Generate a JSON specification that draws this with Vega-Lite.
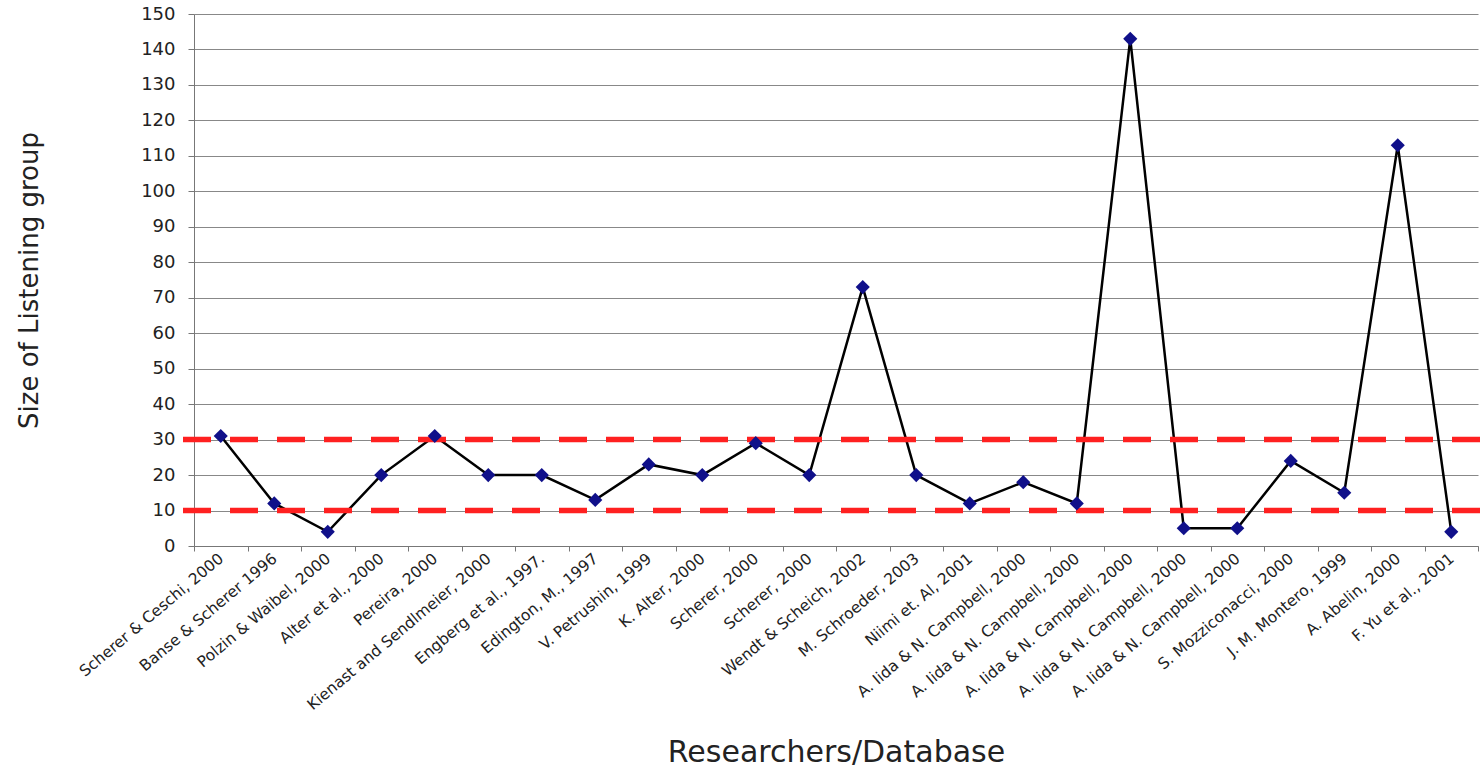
{
  "$schema": "https://vega.github.io/schema/vega-lite/v6.json",
  "autosize": {"type": "none"},
  "padding": {"left": 194, "top": 14, "right": 4, "bottom": 222},
  "width": 1284,
  "height": 532,
  "background": "white",
  "config": {
    "font": "DejaVu Sans",
    "view": {"stroke": null}
  },
  "data": {
    "values": [
      {"key": "01|Scherer & Ceschi, 2000", "size": 31},
      {"key": "02|Banse & Scherer 1996", "size": 12},
      {"key": "03|Polzin & Waibel, 2000", "size": 4},
      {"key": "04|Alter et al., 2000", "size": 20},
      {"key": "05|Pereira, 2000", "size": 31},
      {"key": "06|Kienast and Sendlmeier, 2000", "size": 20},
      {"key": "07|Engberg et al., 1997.", "size": 20},
      {"key": "08|Edington, M., 1997", "size": 13},
      {"key": "09|V. Petrushin, 1999", "size": 23},
      {"key": "10|K. Alter, 2000", "size": 20},
      {"key": "11|Scherer, 2000", "size": 29},
      {"key": "12|Scherer, 2000", "size": 20},
      {"key": "13|Wendt & Scheich, 2002", "size": 73},
      {"key": "14|M. Schroeder, 2003", "size": 20},
      {"key": "15|Niimi et. Al, 2001", "size": 12},
      {"key": "16|A. Iida & N. Campbell, 2000", "size": 18},
      {"key": "17|A. Iida & N. Campbell, 2000", "size": 12},
      {"key": "18|A. Iida & N. Campbell, 2000", "size": 143},
      {"key": "19|A. Iida & N. Campbell, 2000", "size": 5},
      {"key": "20|A. Iida & N. Campbell, 2000", "size": 5},
      {"key": "21|S. Mozziconacci, 2000", "size": 24},
      {"key": "22|J. M. Montero, 1999", "size": 15},
      {"key": "23|A. Abelin, 2000", "size": 113},
      {"key": "24|F. Yu et al., 2001", "size": 4}
    ]
  },
  "encoding": {
    "x": {
      "field": "key", "type": "ordinal", "sort": null,
      "scale": {"paddingInner": 0, "paddingOuter": 0},
      "axis": {
        "title": "Researchers/Database",
        "titleFont": "DejaVu Sans", "titleFontSize": 30, "titleFontWeight": "normal", "titleColor": "#222",
        "titleX": 642, "titleY": 206, "titleBaseline": "middle",
        "labelExpr": "substring(datum.label, 3)",
        "labelAngle": -40, "labelAlign": "right", "labelBaseline": "middle",
        "labelFontSize": 15.5, "labelColor": "#222", "labelPadding": 5, "labelOverlap": false,
        "labelLimit": 400,
        "bandPosition": 0, "tickBand": "extent", "tickSize": 5, "tickColor": "#777",
        "domainColor": "#777", "grid": false
      }
    },
    "y": {
      "field": "size", "type": "quantitative",
      "scale": {"domain": [0, 150], "nice": false},
      "axis": {
        "title": "Size of Listening group",
        "titleFont": "DejaVu Sans", "titleFontSize": 26, "titleFontWeight": "normal", "titleColor": "#222",
        "titleX": -165, "titleY": 266, "titleAngle": -90, "titleAlign": "center", "titleBaseline": "middle",
        "values": [0,10,20,30,40,50,60,70,80,90,100,110,120,130,140,150],
        "labelOverlap": false,
        "labelFontSize": 18, "labelColor": "#222", "labelPadding": 13,
        "tickSize": 6, "tickColor": "#777", "domainColor": "#777",
        "grid": true, "gridColor": "#888", "gridWidth": 1
      }
    }
  },
  "layer": [
    {
      "mark": {"type": "line", "color": "black", "strokeWidth": 2.5}
    },
    {
      "mark": {"type": "rule", "color": "#ff2020", "strokeWidth": 5.5, "strokeDash": [28, 19], "x": -11, "x2": 1290},
      "data": {"values": [{"t": 10}, {"t": 30}]},
      "encoding": {"x": null, "y": {"field": "t", "type": "quantitative"}}
    },
    {
      "mark": {"type": "point", "shape": "diamond", "filled": true, "color": "#10108a", "size": 200, "opacity": 1}
    }
  ]
}
